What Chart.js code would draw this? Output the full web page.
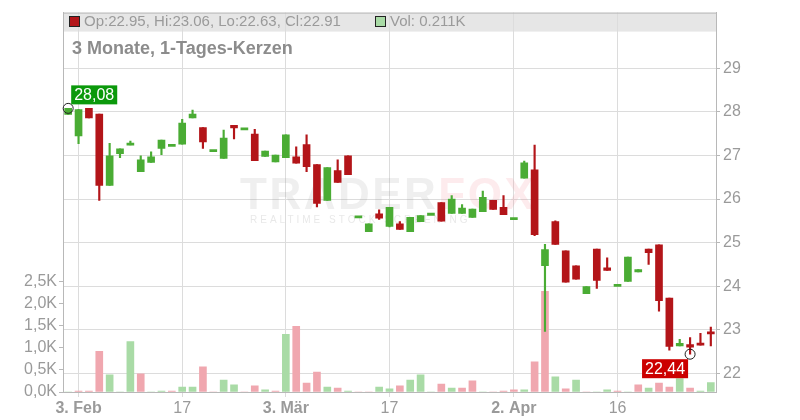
<!DOCTYPE html>
<html>
<head>
<meta charset="utf-8">
<script src="https://cdn.jsdelivr.net/npm/chart.js@4/dist/chart.umd.min.js"></script>
<style>
  body { margin: 0; background: #fff; }
  canvas { display: block; }
</style>
</head>
<body>
<canvas id="chart" width="800" height="420"></canvas>
<script>
// trading days (category axis)
const dates = [
  '31.01.', '03.02.', '04.02.', '05.02.', '06.02.', '07.02.', '10.02.', '11.02.', '12.02.', '13.02.', '14.02.',
  '17.02.', '18.02.', '19.02.', '20.02.', '21.02.', '24.02.', '25.02.', '26.02.', '27.02.', '28.02.',
  '03.03.', '04.03.', '05.03.', '06.03.', '07.03.', '10.03.', '11.03.', '12.03.', '13.03.', '14.03.',
  '17.03.', '18.03.', '19.03.', '20.03.', '21.03.', '24.03.', '25.03.', '26.03.', '27.03.', '28.03.',
  '31.03.', '01.04.', '02.04.', '03.04.', '04.04.', '07.04.', '08.04.', '09.04.', '10.04.', '11.04.',
  '14.04.', '15.04.', '16.04.', '17.04.', '22.04.', '23.04.', '24.04.', '25.04.', '28.04.', '29.04.',
  '30.04.', '02.05.'
];

const open = [
  27.94, 27.45, 28.08, 27.95, 26.31, 27.04, 27.24, 26.63, 26.84, 27.16, 27.23,
  27.26, 27.86, 27.64, 27.11, 26.93, 27.69, 27.61, 27.49, 26.98, 26.85,
  26.95, 26.97, 27.25, 26.79, 25.97, 26.65, 26.99, 25.59, 25.25, 25.66,
  25.37, 25.43, 25.25, 25.48, 25.65, 25.92, 25.67, 25.67, 25.58, 25.71,
  25.97, 25.81, 25.55, 26.48, 26.67, 24.47, 25.48, 24.81, 24.47, 23.83,
  24.85, 24.42, 24.02, 24.11, 24.33, 24.85, 24.95, 23.73, 22.63, 22.66,
  22.69, 22.95
];
const high = [
  28.08, 28.06, 28.08, 27.95, 27.28, 27.15, 27.33, 26.99, 27.08, 27.35, 27.23,
  27.83, 28.04, 27.64, 27.11, 27.58, 27.69, 27.61, 27.60, 27.10, 27.01,
  27.47, 27.20, 27.47, 26.79, 26.72, 26.90, 26.99, 25.59, 25.43, 25.75,
  25.81, 25.48, 25.58, 25.62, 25.65, 25.92, 26.08, 25.87, 25.77, 26.18,
  25.97, 26.08, 25.55, 26.87, 27.24, 24.96, 25.50, 24.81, 24.47, 23.99,
  24.85, 24.65, 24.02, 24.67, 24.38, 24.85, 24.95, 23.73, 22.78, 22.82,
  22.92, 23.06
];
const low = [
  27.94, 27.27, 27.86, 25.97, 26.31, 26.95, 27.24, 26.63, 26.84, 27.02, 27.23,
  27.26, 27.86, 27.16, 27.11, 26.93, 27.38, 27.61, 26.88, 26.98, 26.85,
  26.95, 26.82, 26.63, 25.82, 25.97, 26.38, 26.56, 25.59, 25.25, 25.53,
  25.36, 25.30, 25.25, 25.48, 25.65, 25.49, 25.67, 25.67, 25.58, 25.71,
  25.76, 25.64, 25.55, 26.48, 25.16, 22.96, 24.96, 24.09, 24.16, 23.83,
  23.95, 24.36, 24.02, 24.11, 24.33, 24.50, 23.43, 22.53, 22.63, 22.44,
  22.65, 22.63
];
const close = [
  28.08, 28.05, 27.86, 26.31, 26.99, 27.15, 27.28, 26.90, 26.97, 27.35, 27.23,
  27.74, 27.95, 27.31, 27.11, 27.40, 27.63, 27.61, 26.88, 27.10, 27.01,
  27.47, 26.82, 26.74, 25.90, 26.72, 26.38, 26.56, 25.59, 25.43, 25.56,
  25.81, 25.30, 25.58, 25.62, 25.65, 25.49, 26.00, 25.79, 25.77, 26.04,
  25.76, 25.64, 25.55, 26.83, 25.18, 24.84, 24.96, 24.09, 24.16, 23.99,
  24.13, 24.36, 24.02, 24.67, 24.38, 24.77, 23.67, 22.62, 22.69, 22.60,
  22.65, 22.91
];
const volume = [
  0, 20, 20, 920, 390, 0, 1140, 410, 0, 20, 20,
  110, 110, 570, 0, 270, 160, 0, 140, 50, 20,
  1300, 1480, 200, 450, 110, 90, 20, 0, 0, 110,
  70, 140, 270, 390, 0, 180, 90, 90, 250, 0,
  0, 20, 50, 50, 680, 2270, 340, 70, 270, 0,
  0, 50, 20, 0, 160, 90, 200, 110, 300, 90,
  20, 211
];

const xTickLabels = { '03.02.': '3. Feb', '17.02.': '17', '03.03.': '3. Mär', '17.03.': '17', '02.04.': '2. Apr', '16.04.': '16' };
const boldTicks = ['03.02.', '03.03.', '02.04.'];
const priceTicks = [22, 23, 24, 25, 26, 27, 28, 29];
const volumeTicks = [0, 500, 1000, 1500, 2000, 2500];
const title = '3 Monate, 1-Tages-Kerzen';

const RED = '#b31519';
const GREEN = '#4aac34';
const VOL_RED = '#f0a7af';
const VOL_GREEN = '#a9dba6';
const GRID = '#dcdcdc';
const AXIS = '#b8b8b8';
const TEXT = '#9a9a9a';
const FONT = '"Liberation Sans", Arial, sans-serif';

const n = close.length;
const last = n - 1;

// bodies with a minimal height so doji candles show as a thin line
const bodies = open.map((o, i) => {
  let a = Math.min(o, close[i]), b = Math.max(o, close[i]);
  if (b - a < 0.05) { const m = (a + b) / 2; a = m - 0.025; b = m + 0.025; }
  return [a, b];
});
const wicks = high.map((h, i) => [low[i], h]);
const bodyColors = open.map((o, i) => close[i] >= o ? GREEN : RED);
const volColors = close.map((c, i) => (i > 0 && c < close[i - 1]) ? VOL_RED : VOL_GREEN);

// index of extreme values for the markers
const hiIdx = high.indexOf(Math.max(...high));
const loIdx = low.indexOf(Math.min(...low));

function fmt(v) { return v.toFixed(2).replace('.', ','); }

const frame = {
  id: 'frame',
  beforeDraw(chart) {
    const { ctx, chartArea: a } = chart;
    ctx.save();
    ctx.fillStyle = '#fff';
    ctx.fillRect(0, 0, chart.width, chart.height);
    ctx.fillStyle = '#e6e6e6';
    ctx.fillRect(a.left, a.top, a.right - a.left, 19);
    ctx.restore();
  },
  beforeDatasetsDraw(chart) {
    // watermark
    const { ctx } = chart;
    ctx.save();
    ctx.font = 'bold 44px ' + FONT;
    ctx.textBaseline = 'alphabetic';
    ctx.letterSpacing = '2.5px';
    ctx.fillStyle = 'rgba(150,150,150,0.15)';
    ctx.fillText('TRADER', 240, 209);
    const w = ctx.measureText('TRADER').width;
    ctx.fillStyle = 'rgba(240,120,135,0.15)';
    ctx.fillText('FOX', 240 + w, 209);
    ctx.font = '10px ' + FONT;
    ctx.fillStyle = 'rgba(150,150,150,0.22)';
    ctx.letterSpacing = '3px';
    ctx.fillText('REALTIME STOCK SCREENING', 250, 223);
    ctx.restore();
  },
  afterDraw(chart) {
    const { ctx, chartArea: a, scales } = chart;
    ctx.save();
    // top border
    ctx.strokeStyle = AXIS;
    ctx.lineWidth = 1;
    ctx.beginPath();
    ctx.moveTo(a.left, a.top + 0.5);
    ctx.lineTo(a.right, a.top + 0.5);
    ctx.stroke();

    // header line
    ctx.font = '15px ' + FONT;
    ctx.textBaseline = 'middle';
    ctx.fillStyle = close[last] < open[last] ? RED : GREEN;
    ctx.fillRect(69, 16, 10, 10);
    ctx.strokeStyle = '#222';
    ctx.strokeRect(69.5, 16.5, 10, 10);
    ctx.fillStyle = TEXT;
    ctx.fillText('Op:' + open[last].toFixed(2) + ', Hi:' + high[last].toFixed(2) +
      ', Lo:' + low[last].toFixed(2) + ', Cl:' + close[last].toFixed(2), 84, 21.5);
    ctx.fillStyle = close[last] < close[last - 1] ? VOL_RED : VOL_GREEN;
    ctx.fillRect(375, 16, 10, 10);
    ctx.strokeRect(375.5, 16.5, 10, 10);
    ctx.fillStyle = TEXT;
    ctx.fillText('Vol: ' + (volume[last] / 1000).toFixed(3) + 'K', 390, 21.5);

    // title
    ctx.font = 'bold 18px ' + FONT;
    ctx.fillStyle = '#8c8c8c';
    ctx.textBaseline = 'alphabetic';
    ctx.fillText(title, 72, 54);

    // high / low markers
    const x = scales.x, y = scales.yP;
    const hx = x.getPixelForValue(hiIdx), hy = y.getPixelForValue(high[hiIdx]);
    const lx = x.getPixelForValue(loIdx), ly = y.getPixelForValue(low[loIdx]);
    ctx.strokeStyle = '#222';
    ctx.lineWidth = 1;
    ctx.beginPath(); ctx.arc(hx, hy, 5, 0, Math.PI * 2); ctx.stroke();
    ctx.beginPath(); ctx.arc(lx, ly, 5, 0, Math.PI * 2); ctx.stroke();

    ctx.font = '16px ' + FONT;
    ctx.textBaseline = 'middle';
    let t = fmt(high[hiIdx]), tw = ctx.measureText(t).width;
    ctx.fillStyle = '#0b990b';
    ctx.fillRect(hx + 3, hy - 23, tw + 6, 19);
    ctx.fillStyle = '#fff';
    ctx.fillText(t, hx + 6, hy - 13);
    t = fmt(low[loIdx]); tw = ctx.measureText(t).width;
    ctx.fillStyle = '#cc0000';
    ctx.fillRect(lx - tw - 8, ly + 5, tw + 6, 19);
    ctx.fillStyle = '#fff';
    ctx.fillText(t, lx - tw - 5, ly + 15);
    ctx.restore();
  }
};

new Chart(document.getElementById('chart'), {
  type: 'bar',
  data: {
    labels: dates,
    datasets: [
      { data: bodies, backgroundColor: bodyColors, yAxisID: 'yP', barThickness: 7, grouped: false },
      { data: wicks, backgroundColor: bodyColors, yAxisID: 'yP', barThickness: 1.5, grouped: false },
      { data: volume, backgroundColor: volColors, yAxisID: 'yV', barThickness: 7, grouped: false }
    ]
  },
  options: {
    responsive: false,
    animation: false,
    layout: { padding: { top: 11 } },
    plugins: { legend: { display: false }, tooltip: { enabled: false } },
    scales: {
      x: {
        afterFit: s => { s.height = 28; },
        grid: {
          offset: false,
          color: c => xTickLabels[dates[c.index]] ? GRID : 'transparent',
          tickLength: 5
        },
        border: { color: AXIS },
        ticks: {
          autoSkip: false,
          maxRotation: 0,
          padding: 2,
          color: TEXT,
          font: c => ({ family: FONT, size: 16, weight: boldTicks.includes(dates[c.index]) ? 'bold' : 'normal' }),
          callback: (v, i) => xTickLabels[dates[i]] || ''
        }
      },
      yP: {
        position: 'right',
        min: 21.573,
        max: 30.277,
        afterBuildTicks: s => { s.ticks = priceTicks.map(v => ({ value: v })); },
        afterFit: s => { s.width = 84; },
        grid: { color: GRID, tickLength: 4, tickColor: AXIS },
        border: { color: AXIS },
        ticks: { color: TEXT, padding: 3, font: { family: FONT, size: 16 }, callback: v => v }
      },
      yV: {
        position: 'left',
        min: 0,
        max: 8560,
        afterBuildTicks: s => { s.ticks = volumeTicks.map(v => ({ value: v })); },
        afterFit: s => { s.width = 63; },
        grid: { drawOnChartArea: false, tickLength: 4, color: AXIS },
        border: { color: AXIS },
        ticks: {
          color: TEXT, padding: 2, font: { family: FONT, size: 16 },
          callback: v => (v / 1000).toFixed(1).replace('.', ',') + 'K'
        }
      }
    }
  },
  plugins: [frame]
});
</script>
</body>
</html>
